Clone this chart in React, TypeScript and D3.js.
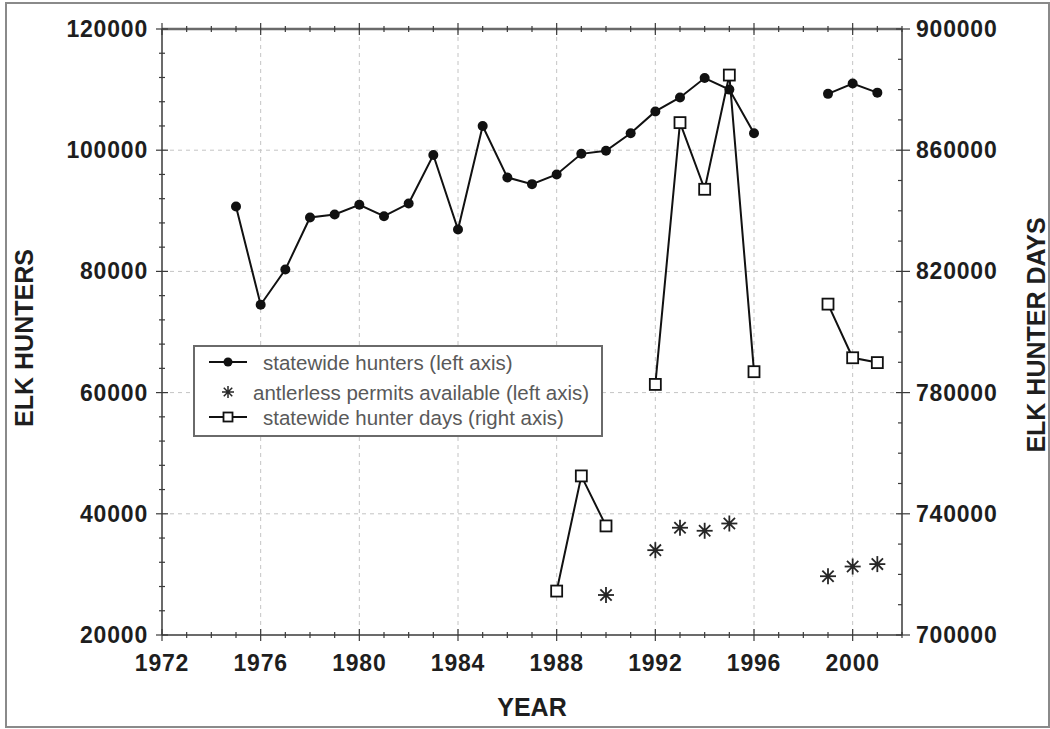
import React from "react";
import * as d3 from "d3";

// Statewide elk hunters (left axis), one value per year; null = no survey
const hunterYears = [
  1975, 1976, 1977, 1978, 1979, 1980, 1981, 1982, 1983, 1984, 1985, 1986, 1987,
  1988, 1989, 1990, 1991, 1992, 1993, 1994, 1995, 1996, 1997, 1998, 1999, 2000, 2001,
];
const hunters: (number | null)[] = [
  90700, 74500, 80300, 88900, 89400, 91000, 89100, 91200, 99200, 86900, 104000, 95500, 94400,
  96000, 99400, 99900, 102800, 106400, 108700, 111900, 110000, 102800, null, null, 109300, 111000, 109500,
];

// Statewide hunter days (right axis)
const dayYears = [1988, 1989, 1990, 1991, 1992, 1993, 1994, 1995, 1996, 1997, 1998, 1999, 2000, 2001];
const hunterDays: (number | null)[] = [
  714500, 752500, 736000, null, 782700, 869100, 847100, 884800, 786900, null, null, 809200, 791500, 789900,
];

// Antlerless permits available (left axis)
const permitYears = [1990, 1992, 1993, 1994, 1995, 1999, 2000, 2001];
const permits = [26600, 34000, 37700, 37200, 38400, 29700, 31300, 31700];

// Axis domains and legend text
const yearDomain = [1972, 2002];
const leftDomain = [20000, 120000];
const rightDomain = [700000, 900000];
const legendLabels = [
  "statewide hunters (left axis)",
  "antlerless permits available (left axis)",
  "statewide hunter days (right axis)",
];

const W = 1050;
const H = 729;
const PL = 162, PR = 902, PT = 29, PB = 635;

const x = d3.scaleLinear().domain(yearDomain).range([PL, PR]);
const yL = d3.scaleLinear().domain(leftDomain).range([PB, PT]);
const yR = d3.scaleLinear().domain(rightDomain).range([PB, PT]);

const xMajor = d3.range(1972, 2001, 4);
const xMinor = d3.range(1972, 2003, 1);
const lMajor = d3.range(20000, 120001, 20000);
const lMinor = d3.range(20000, 120001, 4000);
const rMajor = d3.range(700000, 900001, 40000);
const rMinor = d3.range(700000, 900001, 10000);

const fmt = d3.format("d");
const FONT = "'Liberation Sans', Arial, Helvetica, sans-serif";
const AXIS = "#3a3a3a";
const GRID = "#c4c4c4";

function Asterisk({ cx, cy, r, w }: { cx: number; cy: number; r: number; w: number }) {
  const angles = [0, 45, 90, 135];
  return (
    <g stroke="#262626" strokeWidth={w}>
      {angles.map((a) => {
        const rad = (a * Math.PI) / 180;
        const dx = Math.cos(rad) * r;
        const dy = Math.sin(rad) * r;
        return <line key={a} x1={cx - dx} y1={cy - dy} x2={cx + dx} y2={cy + dy} />;
      })}
      <circle cx={cx} cy={cy} r={r * 0.3} fill="#262626" stroke="none" />
    </g>
  );
}

function Square({ cx, cy, s }: { cx: number; cy: number; s: number }) {
  return (
    <rect x={cx - s / 2} y={cy - s / 2} width={s} height={s} fill="#fff" stroke="#111" strokeWidth={1.8} />
  );
}

export default function App() {
  const hunterPts = hunterYears.map((yr, i) => ({ yr, v: hunters[i] }));
  const dayPts = dayYears.map((yr, i) => ({ yr, v: hunterDays[i] }));

  const lineL = d3
    .line<{ yr: number; v: number | null }>()
    .defined((d) => d.v != null)
    .x((d) => x(d.yr))
    .y((d) => yL(d.v as number));
  const lineR = d3
    .line<{ yr: number; v: number | null }>()
    .defined((d) => d.v != null)
    .x((d) => x(d.yr))
    .y((d) => yR(d.v as number));

  const tickStyle = { fontFamily: FONT, fontWeight: 700, fontSize: 23, letterSpacing: 0.8, fill: "#1e1e1e" } as const;
  const titleStyle = { fontFamily: FONT, fontWeight: 700, fontSize: 25, fill: "#1e1e1e" } as const;
  const legendStyle = { fontFamily: FONT, fontSize: 20.5, fill: "#595959" } as const;

  const lgX = 194, lgY = 346, lgW = 408, lgH = 90;
  const lgRows = [362, 392, 417];

  return (
    <svg width={W} height={H} style={{ position: "absolute", left: 0, top: 0, background: "#fff" }}>
      {/* outer frame */}
      <rect x={6} y={3} width={1043} height={724} fill="none" stroke="#8a8a8a" strokeWidth={2} />

      {/* grid */}
      <g stroke={GRID} strokeWidth={1} strokeDasharray="4,4">
        {xMajor.filter((t) => t > yearDomain[0]).map((t) => (
          <line key={"gx" + t} x1={x(t)} x2={x(t)} y1={PT} y2={PB} />
        ))}
        {lMajor.filter((t) => t > leftDomain[0] && t < leftDomain[1]).map((t) => (
          <line key={"gy" + t} x1={PL} x2={PR} y1={yL(t)} y2={yL(t)} />
        ))}
      </g>

      {/* axes frame */}
      <g stroke={AXIS} strokeWidth={1.5} fill="none">
        <line x1={PL} x2={PR} y1={PB} y2={PB} />
        <line x1={PL} x2={PL} y1={PT} y2={PB} />
        <line x1={PR} x2={PR} y1={PT} y2={PB} />
      </g>
      <line x1={PL} x2={PR} y1={PT} y2={PT} stroke="#6a6a6a" strokeWidth={2.5} />

      {/* ticks */}
      <g stroke={AXIS} strokeWidth={1.2}>
        {xMinor.map((t) => {
          const major = (t - 1972) % 4 === 0;
          const len = major ? 6 : 3;
          return (
            <g key={"xt" + t}>
              <line x1={x(t)} x2={x(t)} y1={PB - len} y2={PB + len} />
              <line x1={x(t)} x2={x(t)} y1={PT - len} y2={PT + len} />
            </g>
          );
        })}
        {lMinor.map((t) => {
          const len = lMajor.includes(t) ? 6 : 3;
          return <line key={"lt" + t} x1={PL - len} x2={PL + len} y1={yL(t)} y2={yL(t)} />;
        })}
        {rMinor.map((t) => {
          const major = rMajor.includes(t);
          return (
            <line key={"rt" + t} x1={PR - (major ? 6 : 4)} x2={PR + (major ? 8 : 0)} y1={yR(t)} y2={yR(t)} />
          );
        })}
      </g>

      {/* tick labels */}
      {xMajor.map((t) => (
        <text key={"xl" + t} x={x(t)} y={PB + 28} textAnchor="middle" dominantBaseline="central" style={tickStyle}>
          {fmt(t)}
        </text>
      ))}
      {lMajor.map((t) => (
        <text key={"ll" + t} x={PL - 14} y={yL(t)} textAnchor="end" dominantBaseline="central" style={tickStyle}>
          {fmt(t)}
        </text>
      ))}
      {rMajor.map((t) => (
        <text key={"rl" + t} x={PR + 14} y={yR(t)} textAnchor="start" dominantBaseline="central" style={tickStyle}>
          {fmt(t)}
        </text>
      ))}

      {/* axis titles */}
      <text x={(PL + PR) / 2} y={707} textAnchor="middle" dominantBaseline="central" style={titleStyle}>
        YEAR
      </text>
      <text
        transform={`translate(24,${(PT + PB) / 2 + 6}) rotate(-90)`}
        textAnchor="middle"
        dominantBaseline="central"
        style={titleStyle}
      >
        ELK HUNTERS
      </text>
      <text
        transform={`translate(1036,${(PT + PB) / 2 + 3}) rotate(-90)`}
        textAnchor="middle"
        dominantBaseline="central"
        style={titleStyle}
      >
        ELK HUNTER DAYS
      </text>

      {/* statewide hunters */}
      <path d={lineL(hunterPts) || ""} fill="none" stroke="#111" strokeWidth={2} />
      {hunterPts.filter((d) => d.v != null).map((d) => (
        <circle key={"h" + d.yr} cx={x(d.yr)} cy={yL(d.v as number)} r={5} fill="#111" />
      ))}

      {/* hunter days */}
      <path d={lineR(dayPts) || ""} fill="none" stroke="#111" strokeWidth={2} />
      {dayPts.filter((d) => d.v != null).map((d) => (
        <Square key={"d" + d.yr} cx={x(d.yr)} cy={yR(d.v as number)} s={11} />
      ))}

      {/* antlerless permits */}
      {permitYears.map((yr, i) => (
        <Asterisk key={"p" + yr} cx={x(yr)} cy={yL(permits[i])} r={8} w={1.8} />
      ))}

      {/* legend */}
      <rect x={lgX} y={lgY} width={lgW} height={lgH} fill="#fff" stroke="#6a6a6a" strokeWidth={2} />
      <line x1={209} x2={247} y1={lgRows[0]} y2={lgRows[0]} stroke="#111" strokeWidth={2} />
      <circle cx={228} cy={lgRows[0]} r={4.5} fill="#111" />
      <text x={263} y={lgRows[0]} dominantBaseline="central" style={legendStyle}>
        {legendLabels[0]}
      </text>
      <Asterisk cx={228} cy={lgRows[1]} r={6} w={1.5} />
      <text x={253} y={lgRows[1]} dominantBaseline="central" style={legendStyle}>
        {legendLabels[1]}
      </text>
      <line x1={209} x2={247} y1={lgRows[2]} y2={lgRows[2]} stroke="#111" strokeWidth={2} />
      <Square cx={228} cy={lgRows[2]} s={9} />
      <text x={263} y={lgRows[2]} dominantBaseline="central" style={legendStyle}>
        {legendLabels[2]}
      </text>
    </svg>
  );
}
